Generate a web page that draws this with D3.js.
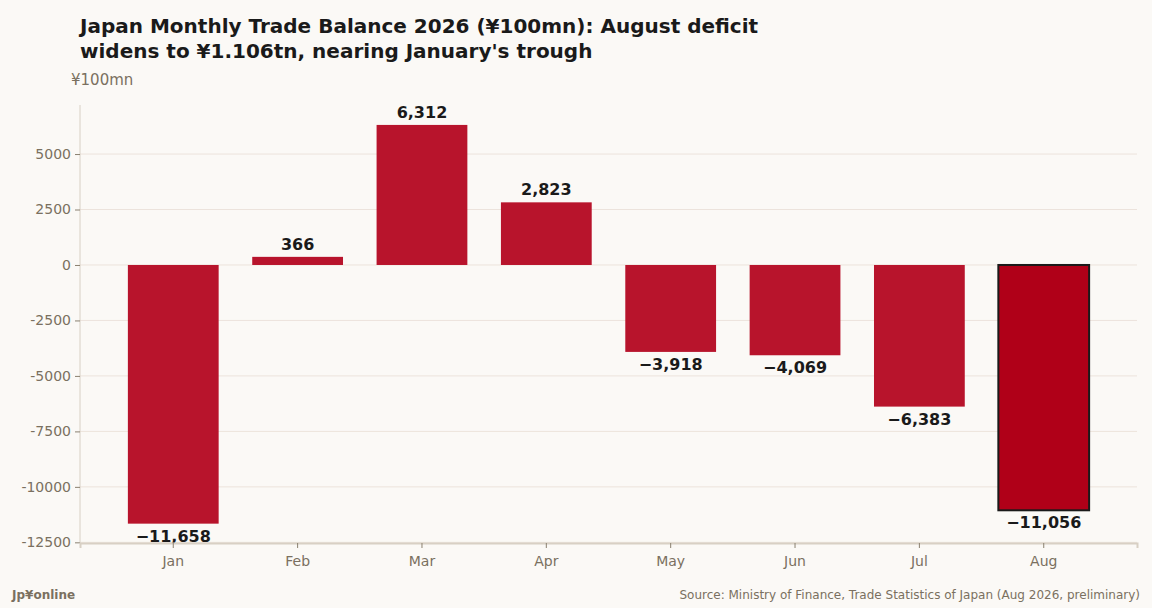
<!DOCTYPE html>
<html><head><meta charset="utf-8">
<script src="https://cdn.jsdelivr.net/npm/d3@7"></script>
<style>body{margin:0;background:#fbf9f6;font-family:"DejaVu Sans",sans-serif}</style>
</head><body><svg id="c" width="1152" height="608"></svg>
<script>
const months=["Jan","Feb","Mar","Apr","May","Jun","Jul","Aug"];
const balance=[-11658,366,6312,2823,-3918,-4069,-6383,-11056];
const yTicks=[-12500,-10000,-7500,-5000,-2500,0,2500,5000];
const svg=d3.select("#c");
svg.append("rect").attr("width",1152).attr("height",608).attr("fill","#fbf9f6");
const x=d3.scaleBand().domain(months).range([80,1137]).paddingInner(0.27).paddingOuter(0.385);
const y=d3.scaleLinear().domain([-12530,7210]).range([543,105]);
const g=svg.append("g");
g.selectAll(".grid").data(yTicks).enter().append("line")
 .attr("x1",80).attr("x2",1137).attr("y1",d=>y(d)).attr("y2",d=>y(d))
 .attr("stroke","#ece3dc").attr("stroke-width",1);
g.selectAll(".bar").data(balance).enter().append("rect")
 .attr("x",(d,i)=>x(months[i])).attr("width",x.bandwidth())
 .attr("y",d=>y(Math.max(0,d))).attr("height",d=>Math.abs(y(d)-y(0)))
 .attr("fill",(d,i)=>i===7?"#b00018":"#b8142c")
 .attr("stroke",(d,i)=>i===7?"#1a1a1a":"none").attr("stroke-width",2);
g.selectAll(".lbl").data(balance).enter().append("text")
 .attr("x",(d,i)=>x(months[i])+x.bandwidth()/2)
 .attr("y",d=>d>=0?y(d)-7:y(d)+18)
 .attr("text-anchor","middle").attr("font-size",16).attr("font-weight","bold").attr("fill","#1a1a1a")
 .text(d=>d3.format(",")(d));
const ya=svg.append("g").attr("transform","translate(80,0)").call(d3.axisLeft(y).tickValues(yTicks).tickFormat(d=>d).tickSize(5).tickPadding(4));
ya.select(".domain").attr("stroke","#d8d0c4").attr("d","M0,105V543");
ya.selectAll(".tick line").attr("stroke","#8a8070");
ya.selectAll("text").attr("font-size",14).attr("fill","#7a7060").attr("font-family","DejaVu Sans");
const xa=svg.append("g").attr("transform","translate(0,543)").call(d3.axisBottom(x).tickSize(5).tickPadding(8));
xa.select(".domain").attr("stroke","#d8d0c4").attr("stroke-width",2);
xa.selectAll(".tick line").attr("stroke","#8a8070");
xa.selectAll("text").attr("font-size",14).attr("fill","#7a7060").attr("font-family","DejaVu Sans");
svg.append("text").attr("x",80).attr("y",33).attr("font-size",20).attr("font-weight","bold").attr("fill","#1a1a1a").text("Japan Monthly Trade Balance 2026 (¥100mn): August deficit");
svg.append("text").attr("x",80).attr("y",58).attr("font-size",20).attr("font-weight","bold").attr("fill","#1a1a1a").text("widens to ¥1.106tn, nearing January's trough");
svg.append("text").attr("x",71).attr("y",85).attr("font-size",15).attr("fill","#7a7060").text("¥100mn");
svg.append("text").attr("x",12).attr("y",599).attr("font-size",12).attr("font-weight","bold").attr("fill","#7a7060").text("Jp¥online");
svg.append("text").attr("x",1140).attr("y",599).attr("text-anchor","end").attr("font-size",12).attr("fill","#7a7060").text("Source: Ministry of Finance, Trade Statistics of Japan (Aug 2026, preliminary)");
</script></body></html>
